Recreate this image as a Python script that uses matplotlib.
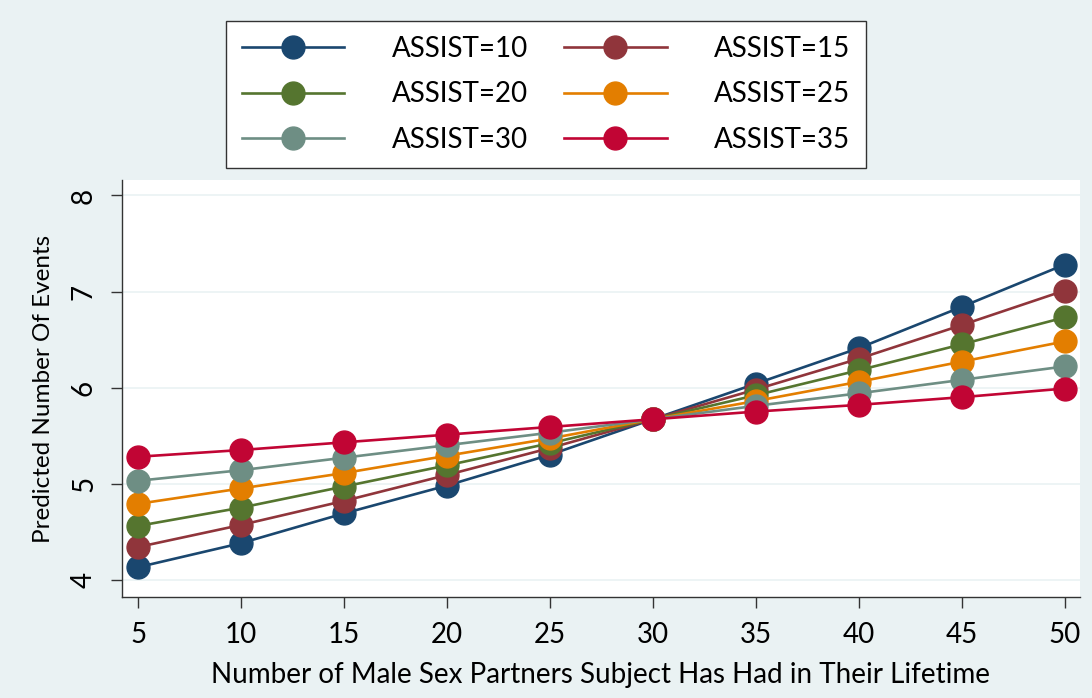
import matplotlib.pyplot as plt

# Data
partners = [5, 10, 15, 20, 25, 30, 35, 40, 45, 50]
assist_labels = ["ASSIST=10", "ASSIST=15", "ASSIST=20", "ASSIST=25", "ASSIST=30", "ASSIST=35"]
assist10 = [4.13, 4.38, 4.69, 4.98, 5.30, 5.67, 6.04, 6.41, 6.84, 7.28]
assist15 = [4.34, 4.57, 4.82, 5.09, 5.37, 5.67, 5.98, 6.30, 6.65, 7.01]
assist20 = [4.56, 4.75, 4.97, 5.19, 5.42, 5.67, 5.92, 6.18, 6.45, 6.73]
assist25 = [4.79, 4.95, 5.11, 5.29, 5.47, 5.67, 5.86, 6.06, 6.27, 6.48]
assist30 = [5.03, 5.14, 5.27, 5.40, 5.53, 5.67, 5.81, 5.94, 6.08, 6.22]
assist35 = [5.28, 5.35, 5.43, 5.51, 5.59, 5.67, 5.75, 5.82, 5.90, 5.99]
series = [assist10, assist15, assist20, assist25, assist30, assist35]

# Stata s2color palette
colors = ["#1A476F", "#90353B", "#55752F", "#E37E00", "#6E8E84", "#C10534"]
BG = "#EAF2F3"

plt.rcParams['font.family'] = ['Lato', 'DejaVu Sans']

fig = plt.figure(figsize=(10.92, 6.98), dpi=100, facecolor=BG)
ax = fig.add_axes([0.1117, 0.1447, 0.8773, 0.5973])
ax.set_facecolor("white")

handles = []
for vals, lab, col in zip(series, assist_labels, colors):
    h, = ax.plot(partners, vals, color=col, linewidth=1.9, marker="o",
                 markersize=16.5, label=lab)
    handles.append(h)

ax.set_xlim(4.22, 50.75)
ax.set_ylim(3.82, 8.16)
ax.set_xticks(partners)
ax.set_yticks([4, 5, 6, 7, 8])
ax.grid(axis="y", color=BG, linewidth=1.2)
ax.set_axisbelow(True)

for side in ["top", "right"]:
    ax.spines[side].set_visible(False)
for side in ["left", "bottom"]:
    ax.spines[side].set_color("#333333")
    ax.spines[side].set_linewidth(1.0)

ax.tick_params(axis="both", direction="out", length=8, width=1.0,
               color="#333333", labelsize=20, pad=10)
for t in ax.get_yticklabels():
    t.set_rotation(90)
    t.set_va("center")

ax.set_xlabel("Number of Male Sex Partners Subject Has Had in Their Lifetime",
              fontsize=20, labelpad=10)
ax.set_ylabel("Predicted Number Of Events", fontsize=17.5, labelpad=12)

# legend filled row by row (matplotlib fills columns first, so reorder)
order = [0, 2, 4, 1, 3, 5]
leg = fig.legend([handles[i] for i in order], [assist_labels[i] for i in order],
                 loc="center", bbox_to_anchor=(0.5, 0.865), ncol=2,
                 frameon=True, fancybox=False, fontsize=20,
                 handlelength=3.7, columnspacing=1.3, labelspacing=0.7,
                 borderpad=0.55, handletextpad=1.7, borderaxespad=0)
leg.get_frame().set_edgecolor("#333333")
leg.get_frame().set_linewidth(1.0)
leg.get_frame().set_facecolor("white")
leg.get_frame().set_alpha(1.0)

fig.savefig("out.png", dpi=100, facecolor=BG)
